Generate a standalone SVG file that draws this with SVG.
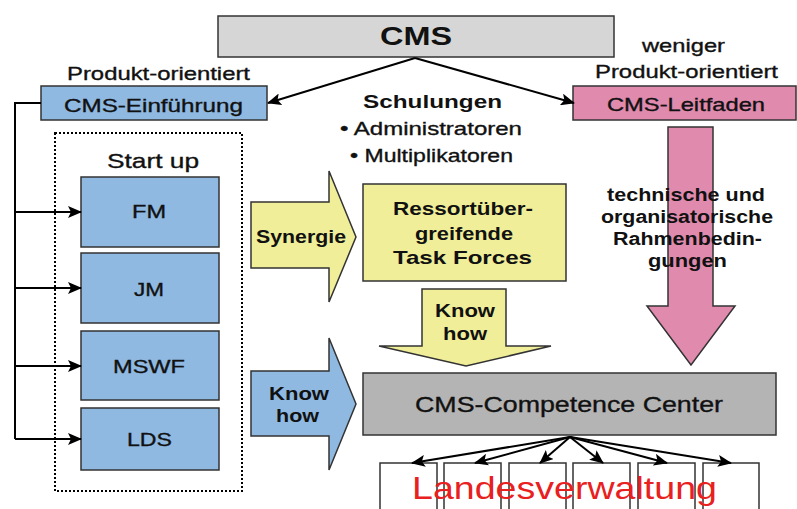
<svg xmlns="http://www.w3.org/2000/svg" width="797" height="509" viewBox="0 0 797 509">
<style>
text{font-family:"Liberation Sans",Arial,sans-serif;fill:#111;stroke:#111;stroke-width:0.35;}
.b{font-weight:bold;stroke-width:0;}
.box{stroke:#333;stroke-width:1.5;}
.blue{fill:#8fb9e1;}
.yel{fill:#f0ee98;}
.pink{fill:#e08aae;}
.con{stroke:#000;stroke-width:2;fill:none;}
</style>
<defs>
<marker id="ah" markerUnits="userSpaceOnUse" markerWidth="14" markerHeight="12" refX="13" refY="6" orient="auto">
<path d="M0,0 L14,6 L0,12 L3,6 Z" fill="#000"/>
</marker>
</defs>
<rect width="797" height="509" fill="#fff"/>

<g id="cms">
<rect class="box" x="218" y="16" width="396" height="41" fill="#d6d6d6"/>
<text class="b" x="380" y="45" font-size="25" textLength="72" lengthAdjust="spacingAndGlyphs">CMS</text>
</g>

<g id="einfuehrung">
<text x="67" y="80" font-size="19" textLength="183" lengthAdjust="spacingAndGlyphs">Produkt-orientiert</text>
<rect class="box blue" x="41" y="86" width="226" height="34"/>
<text x="64" y="112" font-size="19" textLength="179" lengthAdjust="spacingAndGlyphs">CMS-Einführung</text>
</g>

<g id="leitfaden">
<text x="642" y="52" font-size="19" textLength="83" lengthAdjust="spacingAndGlyphs">weniger</text>
<text x="595" y="78" font-size="19" textLength="183" lengthAdjust="spacingAndGlyphs">Produkt-orientiert</text>
<rect class="box pink" x="573" y="86" width="223" height="34"/>
<text x="607" y="111" font-size="19" textLength="158" lengthAdjust="spacingAndGlyphs">CMS-Leitfaden</text>
</g>

<g id="schulungen">
<text class="b" x="363" y="108" font-size="19" textLength="139" lengthAdjust="spacingAndGlyphs">Schulungen</text>
<text x="340" y="135" font-size="19" textLength="182" lengthAdjust="spacingAndGlyphs">• Administratoren</text>
<text x="350" y="162" font-size="19" textLength="163" lengthAdjust="spacingAndGlyphs">• Multiplikatoren</text>
</g>

<g id="startup">
<rect x="55" y="133" width="187" height="358" fill="none" stroke="#000" stroke-width="2" stroke-dasharray="2,2"/>
<text x="107" y="168" font-size="21" textLength="92" lengthAdjust="spacingAndGlyphs">Start up</text>
</g>

<g id="fm">
<rect class="box blue" x="81" y="177" width="138" height="70"/>
<text x="132" y="218" font-size="19" textLength="34" lengthAdjust="spacingAndGlyphs">FM</text>
</g>
<g id="jm">
<rect class="box blue" x="81" y="253" width="138" height="70"/>
<text x="134" y="296" font-size="19" textLength="30" lengthAdjust="spacingAndGlyphs">JM</text>
</g>
<g id="mswf">
<rect class="box blue" x="81" y="331" width="138" height="69"/>
<text x="113" y="373" font-size="19" textLength="72" lengthAdjust="spacingAndGlyphs">MSWF</text>
</g>
<g id="lds">
<rect class="box blue" x="81" y="408" width="138" height="62"/>
<text x="127" y="446" font-size="19" textLength="45" lengthAdjust="spacingAndGlyphs">LDS</text>
</g>

<g id="synergie">
<path class="box yel" d="M251,202 L329,202 L329,171 L356,237 L329,302 L329,268 L251,268 Z"/>
<text class="b" x="256" y="243" font-size="18" textLength="90" lengthAdjust="spacingAndGlyphs">Synergie</text>
</g>

<g id="knowhow-blue">
<path class="box blue" d="M251,371 L329,371 L329,338 L356,404 L329,470 L329,436 L251,436 Z"/>
<text class="b" x="269" y="400" font-size="18" textLength="60" lengthAdjust="spacingAndGlyphs">Know</text>
<text class="b" x="276" y="422" font-size="18" textLength="43" lengthAdjust="spacingAndGlyphs">how</text>
</g>

<g id="taskforces">
<rect class="box yel" x="363" y="184" width="203" height="97"/>
<text class="b" x="393" y="215" font-size="19" textLength="140" lengthAdjust="spacingAndGlyphs">Ressortüber-</text>
<text class="b" x="415" y="240" font-size="19" textLength="98" lengthAdjust="spacingAndGlyphs">greifende</text>
<text class="b" x="393" y="264" font-size="19" textLength="139" lengthAdjust="spacingAndGlyphs">Task Forces</text>
</g>

<g id="knowhow-yellow">
<path class="box yel" d="M422,289 L506,289 L506,346 L551,346 L466,366 L379,346 L422,346 Z"/>
<text class="b" x="435" y="317" font-size="18" textLength="60" lengthAdjust="spacingAndGlyphs">Know</text>
<text class="b" x="443" y="340" font-size="18" textLength="44" lengthAdjust="spacingAndGlyphs">how</text>
</g>

<g id="rahmen">
<path class="box pink" d="M668,127 L713,127 L713,306 L735,306 L691,365 L647,306 L668,306 Z"/>
<text class="b" x="607" y="201" font-size="18" textLength="158" lengthAdjust="spacingAndGlyphs">technische und</text>
<text class="b" x="601" y="223" font-size="18" textLength="172" lengthAdjust="spacingAndGlyphs">organisatorische</text>
<text class="b" x="613" y="245" font-size="18" textLength="149" lengthAdjust="spacingAndGlyphs">Rahmenbedin-</text>
<text class="b" x="648" y="267" font-size="18" textLength="79" lengthAdjust="spacingAndGlyphs">gungen</text>
</g>

<g id="competence">
<rect class="box" x="363" y="373" width="413" height="62" fill="#b4b4b4"/>
<text x="415" y="412" font-size="22" textLength="308" lengthAdjust="spacingAndGlyphs">CMS-Competence Center</text>
</g>

<g id="landesverwaltung">
<rect class="box" x="380" y="463" width="57" height="60" fill="#fff"/>
<rect class="box" x="444" y="463" width="57" height="60" fill="#fff"/>
<rect class="box" x="509" y="463" width="57" height="60" fill="#fff"/>
<rect class="box" x="573" y="463" width="57" height="60" fill="#fff"/>
<rect class="box" x="638" y="463" width="57" height="60" fill="#fff"/>
<rect class="box" x="703" y="463" width="56" height="60" fill="#fff"/>
<text x="412" y="499" font-size="32" textLength="305" lengthAdjust="spacingAndGlyphs" style="fill:#e82020;stroke:none">Landesverwaltung</text>
</g>

<g id="connectors">
<path class="con" d="M415,58 L268,103" marker-end="url(#ah)"/>
<path class="con" d="M415,58 L574,103" marker-end="url(#ah)"/>
<path class="con" d="M41,103 L15,103 L15,439"/>
<path class="con" d="M15,212 L81,212" marker-end="url(#ah)"/>
<path class="con" d="M15,288 L81,288" marker-end="url(#ah)"/>
<path class="con" d="M15,366 L81,366" marker-end="url(#ah)"/>
<path class="con" d="M15,439 L81,439" marker-end="url(#ah)"/>
<path class="con" d="M570,437 L412,463" marker-end="url(#ah)"/>
<path class="con" d="M570,437 L475,463" marker-end="url(#ah)"/>
<path class="con" d="M570,437 L540,463" marker-end="url(#ah)"/>
<path class="con" d="M570,437 L603,463" marker-end="url(#ah)"/>
<path class="con" d="M570,437 L667,463" marker-end="url(#ah)"/>
<path class="con" d="M570,437 L731,463" marker-end="url(#ah)"/>
</g>
</svg>
